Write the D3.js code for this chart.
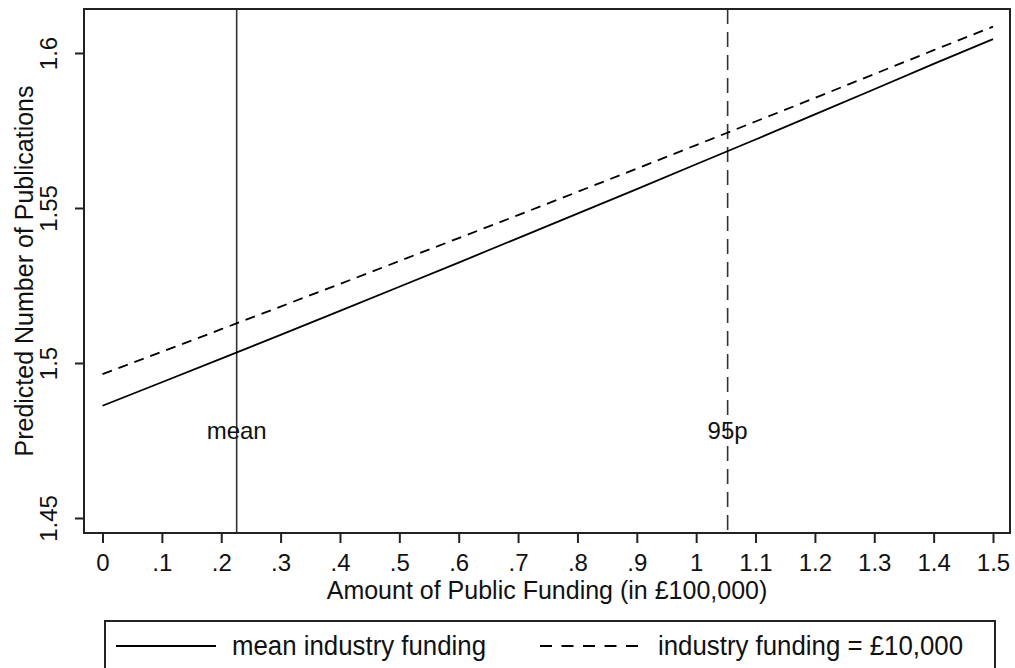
<!DOCTYPE html>
<html>
<head>
<meta charset="utf-8">
<script src="https://cdn.jsdelivr.net/npm/d3@7"></script>
<style>
  body { margin: 0; background: #fff; }
  text { font-family: "Liberation Sans", Arial, sans-serif; fill: #111; }
</style>
</head>
<body>
<div id="chart"></div>
<script>
// public funding (x, in £100,000)
var funding = [0, .1, .2, .3, .4, .5, .6, .7, .8, .9, 1, 1.1, 1.2, 1.3, 1.4, 1.5];
// predicted publications, mean industry funding
var meanIndustry = [1.4862, 1.4938, 1.5014, 1.5091, 1.5168, 1.5246, 1.5324, 1.5403,
  1.5482, 1.5561, 1.5641, 1.5721, 1.5802, 1.5883, 1.5965, 1.6045];
// predicted publications, industry funding = £10,000
var industry10k = [1.4964, 1.5036, 1.5109, 1.5182, 1.5255, 1.5329, 1.5403, 1.5477,
  1.5552, 1.5627, 1.5703, 1.5779, 1.5855, 1.5932, 1.6009, 1.6085];
var xTicks = [0, .1, .2, .3, .4, .5, .6, .7, .8, .9, 1, 1.1, 1.2, 1.3, 1.4, 1.5];
var yTicks = [1.45, 1.5, 1.55, 1.6];
var markers = [{x: 0.226, label: "mean", dashed: false}, {x: 1.053, label: "95p", dashed: true}];
var seriesNames = ["mean industry funding", "industry funding = £10,000"];

var W = 1015, H = 668;
var frame = {left: 84, right: 1010, top: 9, bottom: 533};

var x = d3.scaleLinear().domain([0, 1.5]).range([102.5, 993]);
var y = d3.scaleLinear().domain([1.45, 1.6]).range([518, 53]);

// stata style labels: ".1" rather than "0.1"
function fmt(d) {
  return String(+d.toFixed(2)).replace(/^0\./, ".");
}

var svg = d3.select("#chart").append("svg")
  .attr("width", W)
  .attr("height", H);

// markers (vertical reference lines)
svg.selectAll(".marker")
  .data(markers)
  .enter()
  .append("line")
  .attr("class", "marker")
  .attr("x1", function(d) { return x(d.x); })
  .attr("x2", function(d) { return x(d.x); })
  .attr("y1", frame.top)
  .attr("y2", frame.bottom)
  .attr("stroke", "#333")
  .attr("stroke-width", 1.6)
  .attr("stroke-dasharray", function(d) { return d.dashed ? "15,8" : null; });

svg.selectAll(".marker-label")
  .data(markers)
  .enter()
  .append("text")
  .attr("class", "marker-label")
  .attr("x", function(d) { return x(d.x); })
  .attr("y", 439)
  .attr("text-anchor", "middle")
  .style("font-size", "24px")
  .text(function(d) { return d.label; });

// series lines
var line = d3.line()
  .x(function(d, i) { return x(funding[i]); })
  .y(function(d) { return y(d); });

svg.append("path")
  .datum(meanIndustry)
  .attr("fill", "none")
  .attr("stroke", "#000")
  .attr("stroke-width", 1.8)
  .attr("d", line);

svg.append("path")
  .datum(industry10k)
  .attr("fill", "none")
  .attr("stroke", "#000")
  .attr("stroke-width", 1.8)
  .attr("stroke-dasharray", "10,7")
  .attr("d", line);

// frame
svg.append("rect")
  .attr("x", frame.left)
  .attr("y", frame.top)
  .attr("width", frame.right - frame.left)
  .attr("height", frame.bottom - frame.top)
  .attr("fill", "none")
  .attr("stroke", "#222")
  .attr("stroke-width", 2);

// x axis
var xAxis = svg.append("g")
  .attr("transform", "translate(0," + frame.bottom + ")")
  .call(d3.axisBottom(x)
    .tickValues(xTicks)
    .tickSize(10)
    .tickPadding(11)
    .tickFormat(fmt));
xAxis.select(".domain").remove();
xAxis.selectAll(".tick line").attr("stroke", "#222").attr("stroke-width", 2);
xAxis.selectAll(".tick text").style("font-size", "24px").attr("fill", "#111");

svg.append("text")
  .attr("x", (frame.left + frame.right) / 2)
  .attr("y", 599)
  .attr("text-anchor", "middle")
  .style("font-size", "25px")
  .text("Amount of Public Funding (in £100,000)");

// y axis
var yAxis = svg.append("g")
  .attr("transform", "translate(" + frame.left + ",0)")
  .call(d3.axisLeft(y)
    .tickValues(yTicks)
    .tickSize(9)
    .tickFormat(fmt));
yAxis.select(".domain").remove();
yAxis.selectAll(".tick line").attr("stroke", "#222").attr("stroke-width", 2);
yAxis.selectAll(".tick text")
  .attr("x", null).attr("dy", null)
  .attr("transform", "translate(-27,0) rotate(-90)")
  .attr("text-anchor", "middle")
  .attr("fill", "#111")
  .style("font-size", "24px");

svg.append("text")
  .attr("transform", "translate(33," + ((frame.top + frame.bottom) / 2) + ") rotate(-90)")
  .attr("text-anchor", "middle")
  .style("font-size", "25px")
  .text("Predicted Number of Publications");

// legend
var legend = svg.append("g");
legend.append("rect")
  .attr("x", 105)
  .attr("y", 621)
  .attr("width", 890)
  .attr("height", 60)
  .attr("fill", "#fff")
  .attr("stroke", "#222")
  .attr("stroke-width", 2);

var legendItems = [
  {name: seriesNames[0], x0: 116, x1: 216, tx: 232, tw: 254, dash: null},
  {name: seriesNames[1], x0: 540, x1: 638, tx: 658, tw: 305, dash: "12,9.5"}
];
legend.selectAll(".key")
  .data(legendItems)
  .enter()
  .append("line")
  .attr("x1", function(d) { return d.x0; })
  .attr("x2", function(d) { return d.x1; })
  .attr("y1", 646)
  .attr("y2", 646)
  .attr("stroke", "#000")
  .attr("stroke-width", 1.8)
  .attr("stroke-dasharray", function(d) { return d.dash; });

legend.selectAll(".key-label")
  .data(legendItems)
  .enter()
  .append("text")
  .attr("x", function(d) { return d.tx; })
  .attr("y", 655)
  .attr("textLength", function(d) { return d.tw; })
  .attr("lengthAdjust", "spacingAndGlyphs")
  .style("font-size", "27px")
  .text(function(d) { return d.name; });
</script>
</body>
</html>
